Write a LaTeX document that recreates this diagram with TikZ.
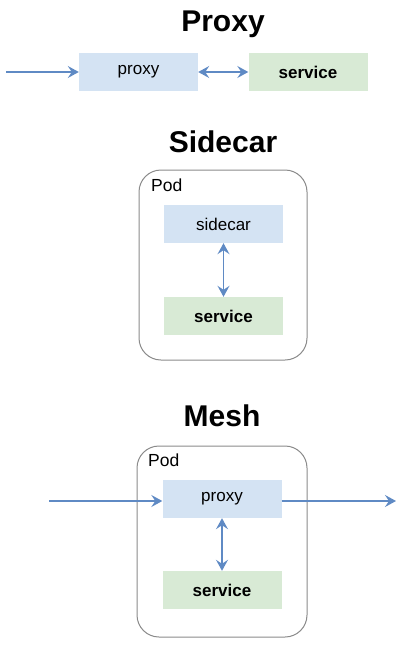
\documentclass[tikz,border=0pt]{standalone}
\usepackage{fontspec}
\setmainfont{Liberation Sans}
\usetikzlibrary{arrows.meta}
\definecolor{bluefill}{HTML}{D4E3F3}
\definecolor{greenfill}{HTML}{D8EAD5}
\definecolor{arrowcol}{HTML}{5F8AC4}
\definecolor{podline}{HTML}{8A8A8A}
\tikzset{
  box/.style={draw=none, minimum width=119pt, minimum height=38pt, inner sep=0pt, font=\fontsize{17}{19}\selectfont},
  bluebox/.style={box, fill=bluefill},
  greenbox/.style={box, fill=greenfill, font=\fontsize{17}{19}\selectfont\bfseries},
  pod/.style={draw=podline, line width=1pt, rounded corners=22pt, inner sep=0pt},
  podlabel/.style={font=\fontsize{17.5}{19}\selectfont, anchor=west, inner sep=0pt},
  title/.style={font=\fontsize{30}{33}\selectfont\bfseries, inner sep=0pt},
  tip/.style={},
  conn/.style={draw=arrowcol, line width=1.4pt, -{Stealth[length=11pt,width=12pt,inset=4pt]}},
  dconn/.style={draw=arrowcol, line width=1.4pt, {Stealth[length=11pt,width=12pt,inset=4pt]}-{Stealth[length=11pt,width=12pt,inset=4pt]}}
}
\begin{document}
\begin{tikzpicture}[x=1pt,y=-1pt]
\useasboundingbox (0,0) rectangle (413,648);
% Proxy
\node[title] (t1) at (223,24) {Proxy};
\coordinate (in1) at (6,72);
\node[bluebox] (p1) at (138.5,72) {proxy};
\node[greenbox] (s1) at (308,72) {service};
\draw[conn] (in1) -- (p1);
\draw[dconn] (p1) -- (s1);
% Sidecar
\node[title] (t2) at (223,142) {Sidecar};
\node[pod, minimum width=168pt, minimum height=190pt] (pod2) at (223,265) {};
\node[podlabel] (pl2) at (151,185) {Pod};
\node[bluebox] (sc) at (223.5,224) {sidecar};
\node[greenbox] (s2) at (223.5,316) {service};
\draw[dconn] (sc) -- (s2);
% Mesh
\node[title] (t3) at (222,416) {Mesh};
\node[pod, minimum width=170pt, minimum height=191pt] (pod3) at (222,541.5) {};
\node[podlabel] (pl3) at (148,460) {Pod};
\node[bluebox] (p3) at (222,499) {proxy};
\node[greenbox] (s3) at (222,590) {service};
\coordinate (in3) at (49,501);
\coordinate (out3) at (396,501);
\draw[conn] (in3) -- (in3 -| p3.west);
\draw[conn] (out3 -| p3.east) -- (out3);
\draw[dconn] (p3) -- (s3);
\end{tikzpicture}
\end{document}
